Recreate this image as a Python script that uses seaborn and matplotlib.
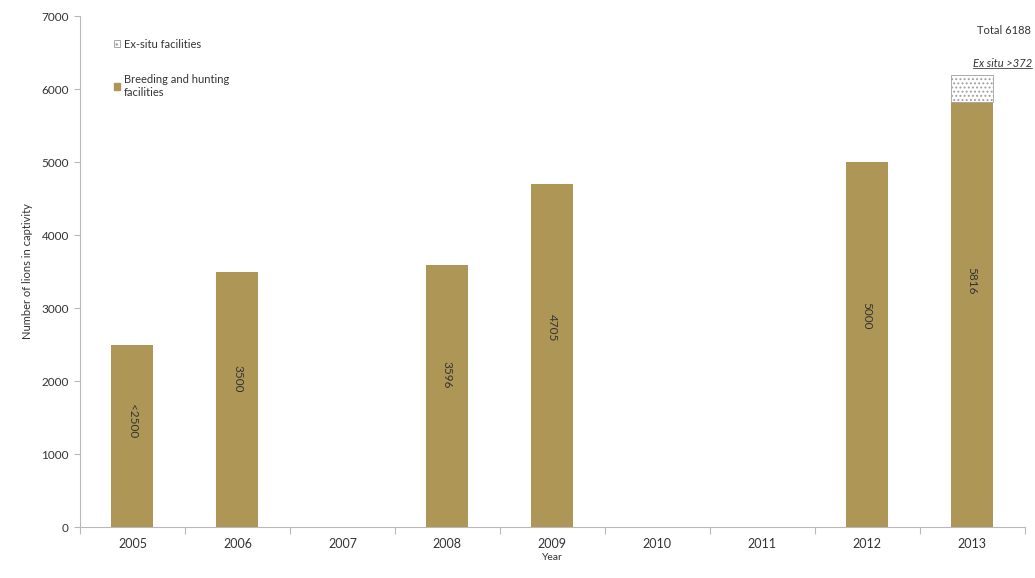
import matplotlib
matplotlib.use("Agg")
import matplotlib.pyplot as plt
import seaborn as sns
import pandas as pd
import numpy as np
from matplotlib.patches import Patch

years = ["2005", "2006", "2007", "2008", "2009", "2010", "2011", "2012", "2013"]
breeding = [2500, 3500, np.nan, 3596, 4705, np.nan, np.nan, 5000, 5816]
bar_labels = ["<2500", "3500", "", "3596", "4705", "", "", "5000", "5816"]
exsitu_years = ["2013"]
exsitu = [372]
total_2013 = 6188

sns.set_theme(style="white")
plt.rcParams["font.family"] = ["Lato", "DejaVu Sans"]
plt.rcParams["hatch.color"] = "#8f8f8f"
plt.rcParams["hatch.linewidth"] = 0.9

bar_color = "#AE9656"
grey = "#b8b8b8"

fig = plt.figure(figsize=(10.35, 5.78), dpi=100)
ax = fig.add_axes([0.0773, 0.0882, 0.9127, 0.884])

df = pd.DataFrame({"Year": years, "Value": breeding})
sns.barplot(data=df, x="Year", y="Value", order=years, color=bar_color,
            saturation=1, width=0.4, ax=ax, linewidth=0)

df2 = pd.DataFrame({"Year": exsitu_years, "Value": exsitu})
sns.barplot(data=df2, x="Year", y="Value", order=years, color="white",
            saturation=1, width=0.4, ax=ax, bottom=breeding[-1],
            hatch="....", edgecolor="#a0a0a0", linewidth=0.6)

ax.set_ylim(0, 7000)
ax.set_xlim(-0.5, len(years) - 0.5)
ax.set_yticks(range(0, 7001, 1000))
ax.set_yticklabels([str(v) for v in range(0, 7001, 1000)], fontsize=8.5, color="#333333")
ax.set_xticks(range(len(years)))
ax.set_xticklabels(years, fontsize=9, color="#333333")
ax.tick_params(axis="x", length=0, pad=8)
ax.tick_params(axis="y", length=4, color=grey, width=0.8, left=True, pad=4)
ax.set_xticks(np.arange(-0.5, len(years), 1), minor=True)
ax.tick_params(axis="x", which="minor", length=5, color=grey, width=0.8, bottom=True)

for side in ["top", "right"]:
    ax.spines[side].set_visible(False)
for side in ["left", "bottom"]:
    ax.spines[side].set_color(grey)
    ax.spines[side].set_linewidth(0.8)

ax.set_xlabel("Year", fontsize=7.5, color="#333333", labelpad=2)
ax.set_ylabel("Number of lions in captivity", fontsize=8, color="#333333", labelpad=6)

for i, (v, lab) in enumerate(zip(breeding, bar_labels)):
    if lab:
        ax.text(i, v * 0.58, lab, rotation=270, ha="center", va="center",
                fontsize=8.5, color="#333333")

ax.text(len(years) - 1 + 0.3, 6800, f"Total {total_2013}", ha="center", va="center",
        fontsize=8, color="#333333", clip_on=False)
ex_txt = ax.text(len(years) - 1 + 0.57, 6270, f"Ex situ >{exsitu[0]}", ha="right",
                 va="bottom", fontsize=8, color="#333333", style="italic", clip_on=False)

fig.canvas.draw()
bb = ex_txt.get_window_extent().transformed(ax.transData.inverted())
ax.plot([bb.x0, bb.x1], [bb.y0 + 20, bb.y0 + 20], color="#555555", lw=0.7, clip_on=False)

handles = [Patch(facecolor="white", edgecolor="#9a9a9a", hatch="...", linewidth=0.6),
           Patch(facecolor=bar_color, edgecolor=bar_color)]
leg = ax.legend(handles, ["Ex-situ facilities", "Breeding and hunting\nfacilities"],
                loc="upper left", bbox_to_anchor=(0.025, 0.975), frameon=False,
                fontsize=8, handlelength=0.6, handleheight=0.6, handletextpad=0.3,
                labelspacing=2.2)
for t in leg.get_texts():
    t.set_color("#333333")

fig.savefig("out.png", dpi=100)
